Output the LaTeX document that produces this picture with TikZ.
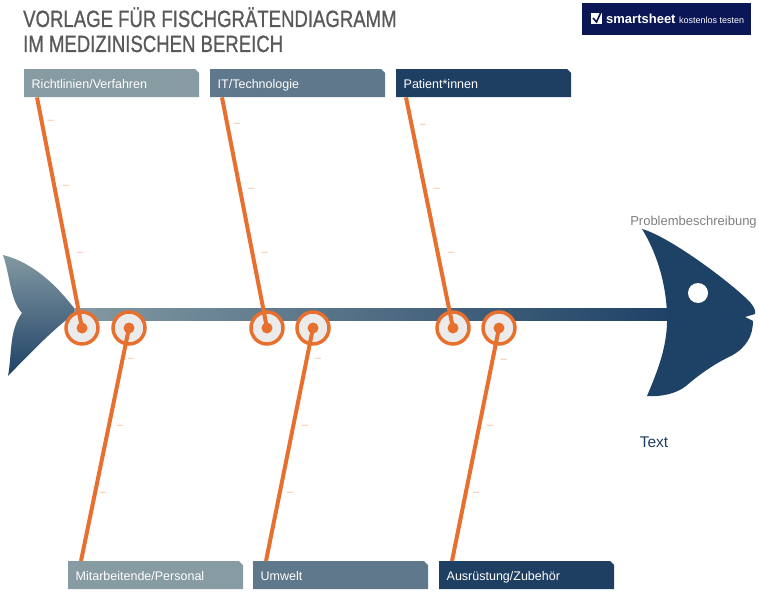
\documentclass[tikz,border=0pt]{standalone}
\usepackage{fontspec}
\setmainfont{Liberation Sans}
\newfontfamily\titlefont[FakeStretch=0.79, FakeBold=0.8]{Liberation Sans}
\usetikzlibrary{calc}

\definecolor{boneorange}{HTML}{E8702F}
\definecolor{tickorange}{HTML}{F2B597}
\definecolor{jointgray}{HTML}{EBEBEB}
\definecolor{fishgray}{HTML}{8399A2}
\definecolor{fishnavy}{HTML}{1E4166}
\definecolor{boxlight}{HTML}{879BA2}
\definecolor{boxmid}{HTML}{5F788B}
\definecolor{boxdark}{HTML}{1E3F62}
\definecolor{titlegray}{HTML}{595959}
\definecolor{logonavy}{HTML}{0B1656}

\newcommand{\categoryBox}[5]{%
  \begin{scope}[shift={(#2, #3)}]%
    \fill[#4] (0, 0) -- (171, 0) -- (175, 4) -- (175, 28) -- (0, 28) -- cycle;

    \node[anchor=north west, minimum height=28pt, text width=160pt,
      text height=10pt, text depth=0pt,
      inner xsep=7.5pt, inner ysep=0pt, align=left, text=white,
      font=\fontsize{12.5}{15}\selectfont]
      (#1) at (0, 0) {#5};
  \end{scope}%
}

\tikzset{
  joint/.style={circle, draw=boneorange, line width=3.5pt, fill=jointgray,
    minimum size=32pt, inner sep=0pt},
  bone/.style={draw=boneorange, line width=4pt},
  tick/.style={text=tickorange, inner sep=0pt, font=\fontsize{11}{11}\selectfont}
}

\begin{document}
\begin{tikzpicture}[x=1pt, y=-1pt]
  \useasboundingbox (0, 0) rectangle (759, 594);

  % Title and logo
  \node[anchor=base west, text=titlegray, inner sep=0pt,
    font=\titlefont\fontsize{23.5}{24}\selectfont]
    (title1) at (23, 27) {VORLAGE FÜR FISCHGRÄTENDIAGRAMM};
  \node[anchor=base west, text=titlegray, inner sep=0pt,
    font=\titlefont\fontsize{23.5}{24}\selectfont]
    (title2) at (23, 52) {IM MEDIZINISCHEN BEREICH};

  \node[anchor=north west, fill=logonavy, minimum width=169pt,
    minimum height=32pt, inner sep=0pt] (logo) at (582, 3) {};
  \fill[white] (591, 13) rectangle (602, 24);
  \draw[logonavy, line width=1.6pt] (593, 18) -- (596.5, 22) -- (601, 12);
  \node[anchor=base west, text=white, inner sep=0pt,
    font=\bfseries\fontsize{13}{13}\selectfont] (logoname) at (606, 24) {smartsheet};
  \node[anchor=base west, text=white, inner sep=0pt,
    font=\fontsize{9}{9}\selectfont] (logotag) at (679, 23.5) {kostenlos testen};

  % Fish: tail, spine, head
  \shade[top color=fishgray, bottom color=fishnavy]
    (3, 255) .. controls (32, 262) and (57, 285) .. (77, 312)
    .. controls (58, 325) and (38, 345) .. (8, 376)
    .. controls (12, 355) and (9, 330) .. (22, 313)
    .. controls (10, 300) and (10, 275) .. (3, 255) -- cycle;

  \shade[left color=fishgray, right color=fishnavy] (74, 308) rectangle (672, 320);

  \fill[fishnavy]
    (642, 229) .. controls (668, 236) and (728, 280) .. (750, 302)
    .. controls (754, 307) and (756, 311) .. (755, 314)
    -- (745, 317) -- (753, 321)
    .. controls (753, 336) and (746, 348) .. (731, 356)
    .. controls (716, 363) and (701, 373) .. (686, 386)
    .. controls (676, 394) and (660, 397) .. (647, 396)
    .. controls (658, 370) and (668, 345) .. (667, 315)
    .. controls (666, 280) and (655, 250) .. (642, 229) -- cycle;
  \fill[white] (698, 293) circle (10);

  \node[anchor=base, text=gray, inner sep=0pt, font=\fontsize{13}{13}\selectfont]
    (problem) at (693.5, 225) {Problembeschreibung};
  \node[anchor=base, text=boxdark, inner sep=0pt, font=\fontsize{15.5}{16}\selectfont]
    (result) at (654, 447) {Text};

  % Create boxes using \categoryBox
  \categoryBox{rules}{24}{69}{boxlight}{Richtlinien/Verfahren}
  \categoryBox{tech}{210}{69}{boxmid}{IT/Technologie}
  \categoryBox{patients}{396}{69}{boxdark}{Patient*innen}
  \categoryBox{staff}{68}{561}{boxlight}{Mitarbeitende/Personal}
  \categoryBox{environment}{253}{561}{boxmid}{Umwelt}
  \categoryBox{equipment}{439}{561}{boxdark}{Ausrüstung/Zubehör}

  % Joints on the spine
  \node[joint] (j1) at (82, 328) {};
  \node[joint] (j2) at (129, 328) {};
  \node[joint] (j3) at (267, 328) {};
  \node[joint] (j4) at (313, 328) {};
  \node[joint] (j5) at (453, 328) {};
  \node[joint] (j6) at (499, 328) {};

  % Bones from the boxes to the joints
  \draw[bone] ($(rules.south west)+(13, 0)$) -- (j1.center);
  \draw[bone] ($(tech.south west)+(12, 0)$) -- (j3.center);
  \draw[bone] ($(patients.south west)+(10, 0)$) -- (j5.center);
  \draw[bone] ($(staff.north west)+(13, 0)$) -- (j2.center);
  \draw[bone] ($(environment.north west)+(13, 0)$) -- (j4.center);
  \draw[bone] ($(equipment.north west)+(13, 0)$) -- (j6.center);

  \foreach \j in {j1, j2, j3, j4, j5, j6}
    \fill[boneorange] (\j) circle (5.5);

  % Placeholder dashes along the bones
  \foreach \x/\y [count=\i] in {51/122, 66/187, 80/254, 237/125, 251/190, 265/254,
      423/126, 437/190, 451/254, 131/360, 120/427, 103/494,
      318/360, 305/427, 290/494, 504/361, 490/427, 476/494}
    \node[tick] (dash\i) at (\x, \y) {–};
\end{tikzpicture}
\end{document}
